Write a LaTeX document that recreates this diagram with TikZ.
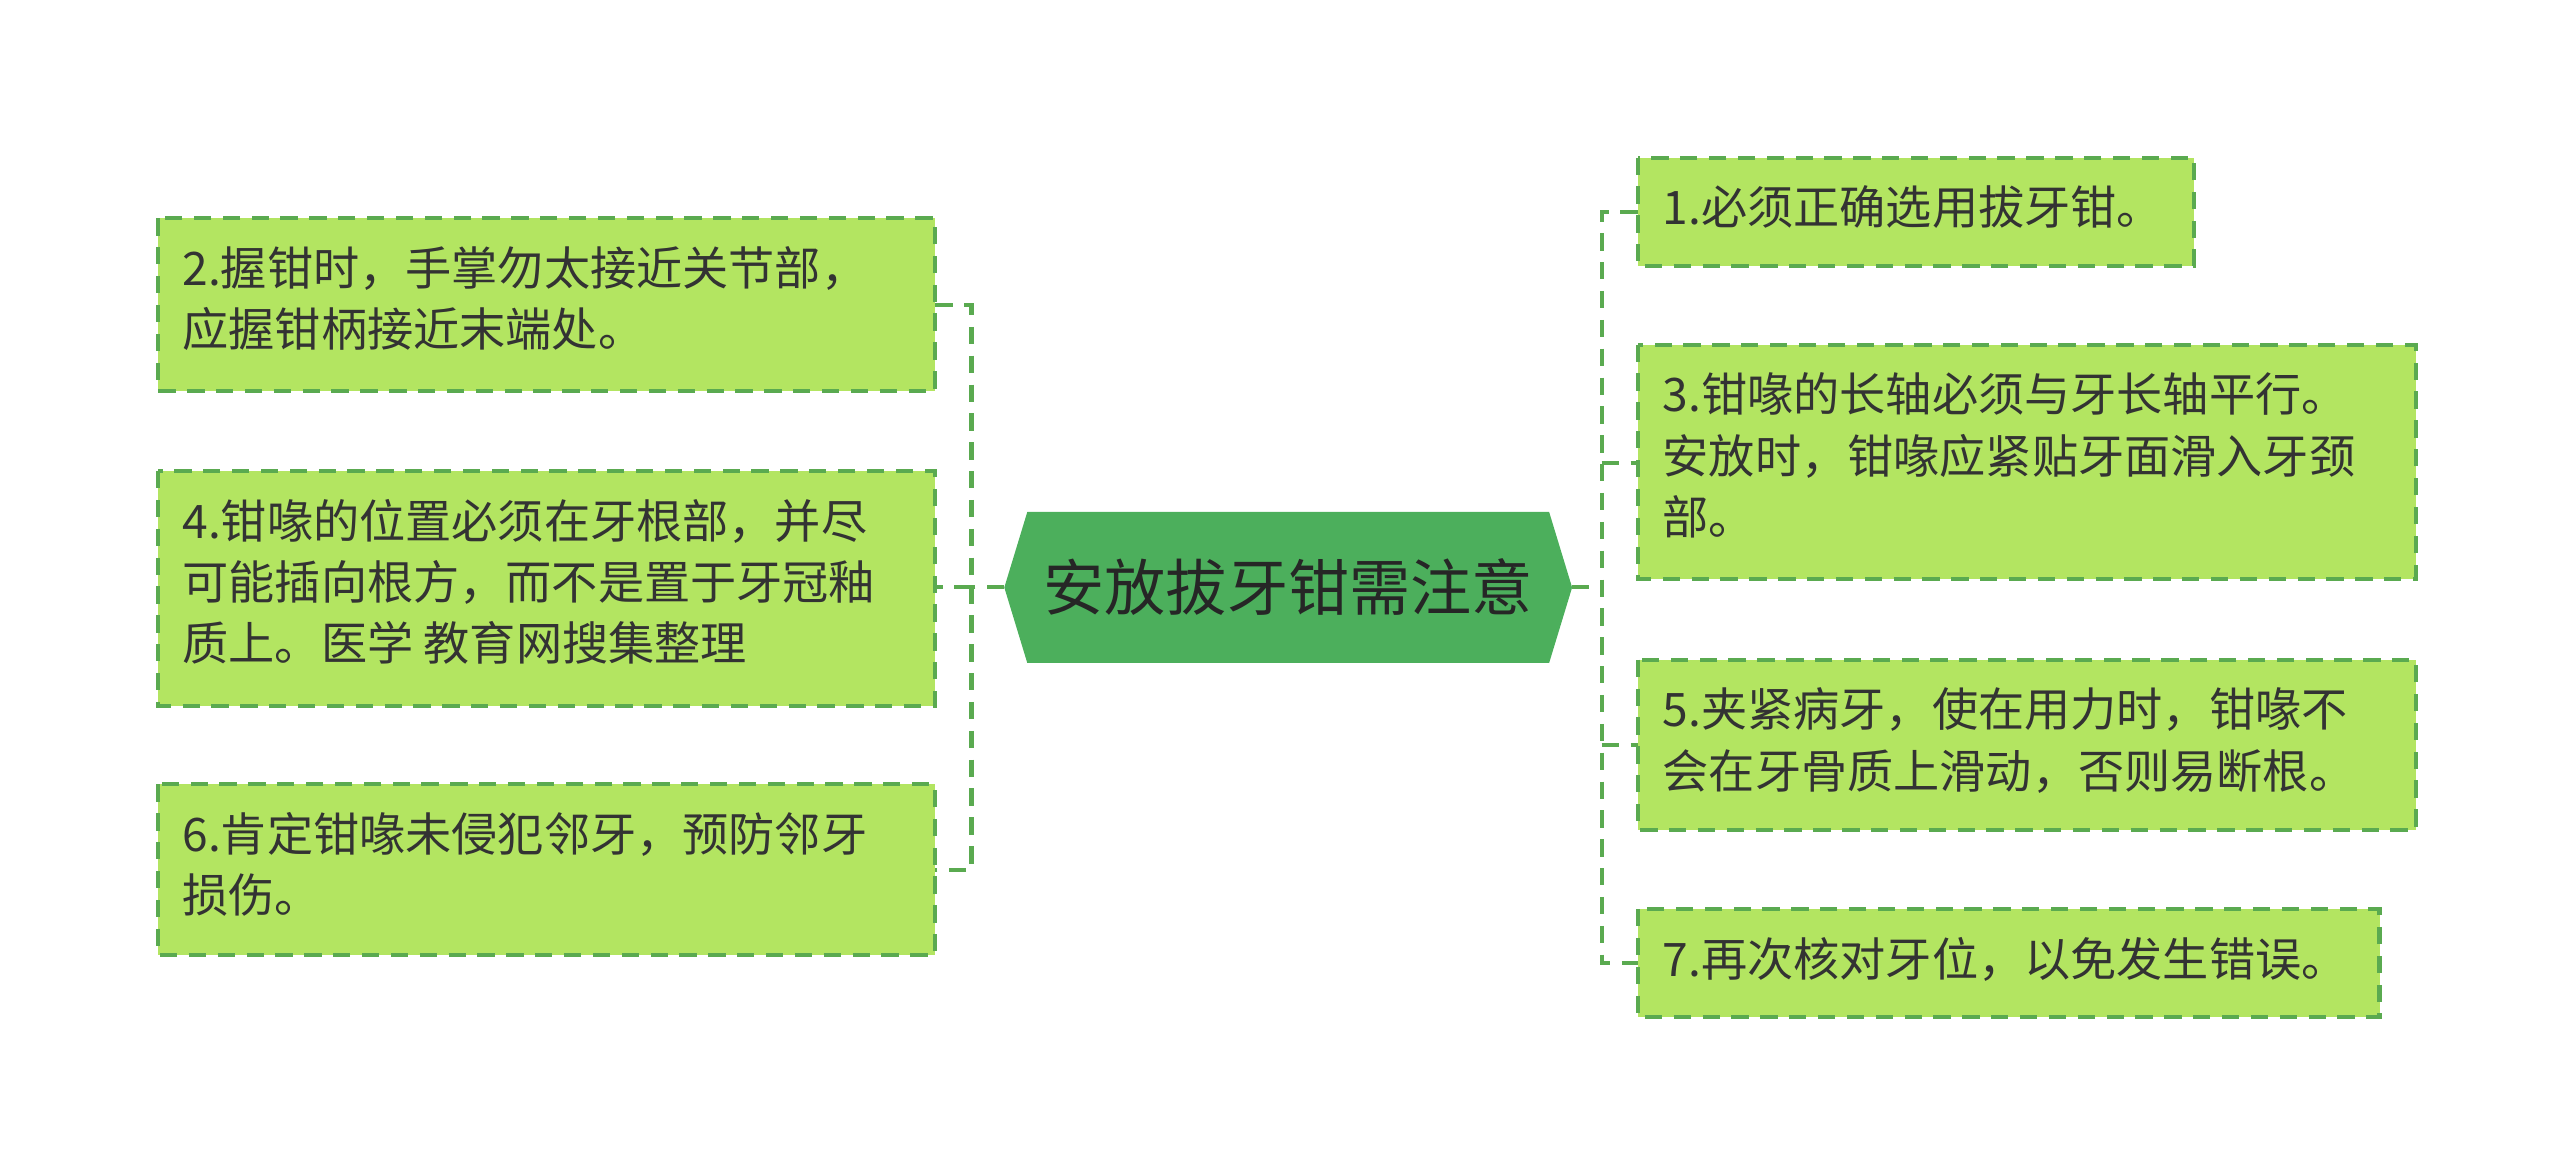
\documentclass[tikz,border=0pt]{standalone}
\usepackage{fontspec}
\setmainfont{Noto Sans CJK SC}
\usetikzlibrary{calc}
\definecolor{leafgreen}{HTML}{B3E561}
\definecolor{linegreen}{HTML}{5AAA50}
\definecolor{rootgreen}{HTML}{4CAF5C}
\tikzset{
  leaf/.style={draw=linegreen,dash pattern=on 3pt off 2pt,line width=0.7pt,fill=leafgreen,anchor=north west,
    align=left,inner sep=0pt,font=\fontsize{8pt}{10.6pt}\selectfont,text=black!80},
  link/.style={draw=linegreen,dash pattern=on 3pt off 2pt,line width=0.7pt}
}
\begin{document}
\begin{tikzpicture}[x=0.01cm,y=-0.01cm]
\useasboundingbox (0,0) rectangle (1560,713);
% root
\fill[rootgreen] (612,358) -- (626,312) -- (944,312) -- (958,358) -- (944,404) -- (626,404) -- cycle;
\coordinate (rl) at (612,358);
\coordinate (rr) at (958,358);
\node[font=\fontsize{10.6pt}{12pt}\selectfont,text=black!85] (root) at (785,358) {安放拔牙钳需注意};
% left leaves
\draw[leaf] (96,133) rectangle (570,238);
\node[leaf,draw=none,fill=none] (n2) at (110,149) {2.握钳时，手掌勿太接近关节部，\\应握钳柄接近末端处。};
\draw[leaf] (96,287) rectangle (570,430);
\node[leaf,draw=none,fill=none] (n4) at (110,303) {4.钳喙的位置必须在牙根部，并尽\\可能插向根方，而不是置于牙冠釉\\质上。医学 教育网搜集整理};
\draw[leaf] (96,478) rectangle (570,582);
\node[leaf,draw=none,fill=none] (n6) at (110,494) {6.肯定钳喙未侵犯邻牙，预防邻牙\\损伤。};
% right leaves
\draw[leaf] (998,96) rectangle (1337,162);
\node[leaf,draw=none,fill=none] (n1) at (1012,112) {1.必须正确选用拔牙钳。};
\draw[leaf] (998,210) rectangle (1472,353);
\node[leaf,draw=none,fill=none] (n3) at (1012,226) {3.钳喙的长轴必须与牙长轴平行。\\安放时，钳喙应紧贴牙面滑入牙颈\\部。};
\draw[leaf] (998,402) rectangle (1472,506);
\node[leaf,draw=none,fill=none] (n5) at (1012,418) {5.夹紧病牙，使在用力时，钳喙不\\会在牙骨质上滑动，否则易断根。};
\draw[leaf] (998,554) rectangle (1450,620);
\node[leaf,draw=none,fill=none] (n7) at (1012,570) {7.再次核对牙位，以免发生错误。};
% connectors
\draw[link] (rl) -- (592,358);
\draw[link] (570,186) -| (592,530) -- (570,530);
\draw[link] (592,358) -- (570,358);
\draw[link] (rr) -- (976,358);
\draw[link] (998,129) -| (976,587) -- (998,587);
\draw[link] (976,282) -- (998,282);
\draw[link] (976,454) -- (998,454);
\end{tikzpicture}
\end{document}
